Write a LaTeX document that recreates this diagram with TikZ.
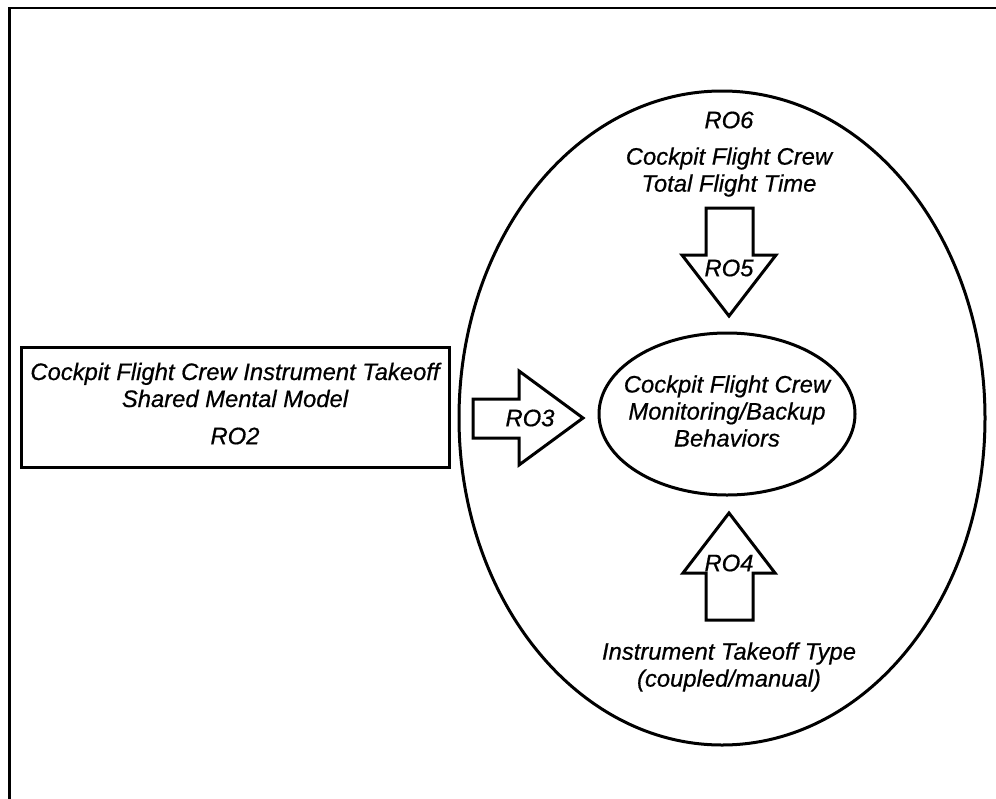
\documentclass[tikz,border=0pt]{standalone}
\usepackage{fontspec}
\setmainfont{Liberation Sans}[ItalicFeatures={FakeBold=0.6}]
\usetikzlibrary{shapes.geometric}
\begin{document}
\begin{tikzpicture}[x=1pt,y=-1pt,
  lbl/.style={font=\fontsize{23.8}{27}\selectfont\itshape, align=center, inner sep=0pt},
  heavy/.style={line width=3pt, line join=miter},
  blockarrow/.style={heavy, fill=white}]
\useasboundingbox (0,0) rectangle (996,798);
% outer frame (cut off at right and bottom)
\draw[line width=2.6pt] (9.5,800) -- (9.5,8) -- (1000,8);
% big ellipse
\node[heavy, draw, ellipse, minimum width=526, minimum height=654, inner sep=0pt] (outer) at (722,418) {};
% left box
\node[heavy, draw, minimum width=428, minimum height=120, inner sep=0pt] (box) at (235,407) {};
\node[lbl] (boxtext) at (235,385) {Cockpit Flight Crew Instrument Takeoff\\Shared Mental Model};
\node[lbl] (ro2) at (235,436) {RO2};
% inner ellipse
\node[heavy, draw, ellipse, minimum width=256, minimum height=162, inner sep=0pt] (inner) at (727,414) {};
\node[lbl] (innertext) at (727,411) {Cockpit Flight Crew\\Monitoring/Backup\\Behaviors};
% top text
\node[lbl] (ro6) at (729,120) {RO6};
\node[lbl] (toptext) at (729,172) {Cockpit Flight Crew\\Total Flight Time};
% bottom text
\node[lbl] (bottext) at (729,667) {Instrument Takeoff Type\\(coupled/manual)};
% RO3 block arrow
\draw[blockarrow] (473,399) -- (519,399) -- (519,371) -- (583,418) -- (519,465) -- (519,438) -- (473,438) -- cycle;
\node[lbl] (ro3) at (530,418) {RO3};
% RO5 block arrow (down)
\draw[blockarrow] (706,208) -- (753,208) -- (753,255) -- (776,255) -- (729,316) -- (682,255) -- (706,255) -- cycle;
\node[lbl] (ro5) at (729,268) {RO5};
% RO4 block arrow (up)
\draw[blockarrow] (706,620) -- (753,620) -- (753,573) -- (775,573) -- (729,513) -- (683,573) -- (706,573) -- cycle;
\node[lbl] (ro4) at (729,563) {RO4};
\end{tikzpicture}
\end{document}
